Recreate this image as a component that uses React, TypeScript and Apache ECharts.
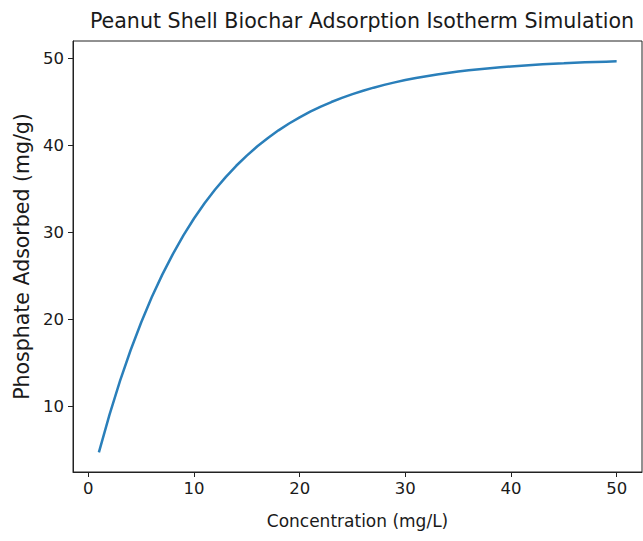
import React, { useEffect, useRef } from "react";
import * as echarts from "echarts";

const concentration: number[] = [
  1, 2, 3, 4, 5, 6, 7, 8, 9, 10, 11, 12, 13, 14, 15, 16, 17, 18, 19, 20, 21, 22, 23, 24, 25,
  26, 27, 28, 29, 30, 31, 32, 33, 34, 35, 36, 37, 38, 39, 40, 41, 42, 43, 44, 45, 46, 47, 48, 49, 50,
];
const adsorbed: number[] = [
  4.76, 9.06, 12.96, 16.48, 19.67, 22.56, 25.17, 27.53, 29.67, 31.61, 33.36, 34.94, 36.37, 37.67,
  38.84, 39.91, 40.87, 41.74, 42.52, 43.23, 43.88, 44.46, 44.99, 45.46, 45.9, 46.29, 46.64, 46.96,
  47.25, 47.51, 47.75, 47.96, 48.16, 48.33, 48.49, 48.63, 48.76, 48.88, 48.99, 49.08, 49.17, 49.25,
  49.32, 49.39, 49.44, 49.5, 49.55, 49.59, 49.63, 49.66,
];
const xTicks: number[] = [0, 10, 20, 30, 40, 50];
const yTicks: number[] = [10, 20, 30, 40, 50];

const FONT = "DejaVu Sans";

export default function App() {
  const ref = useRef<HTMLDivElement>(null);
  useEffect(() => {
    document.body.style.margin = "0";
    if (!ref.current) return;
    const chart = echarts.init(ref.current, undefined, { renderer: "svg" });
    chart.setOption({
      animation: false,
      backgroundColor: "#ffffff",
      title: {
        text: "Peanut Shell Biochar Adsorption Isotherm Simulation",
        left: 357,
        textAlign: "center",
        top: 5,
        textStyle: { fontFamily: FONT, fontSize: 20.6, fontWeight: "normal", color: "#1a1a1a" },
      },
      grid: { left: 73, right: 1, top: 41, bottom: 69, containLabel: false, show: true, borderColor: "#222", borderWidth: 1 },
      xAxis: {
        type: "value",
        min: -1.45,
        max: 52.4,
        name: "Concentration (mg/L)",
        nameLocation: "middle",
        nameGap: 40,
        nameTextStyle: { fontFamily: FONT, fontSize: 17, color: "#1a1a1a" },
        axisLine: { show: true, onZero: false, lineStyle: { color: "#222", width: 1 } },
        axisTick: { show: true, inside: false, length: 5, customValues: xTicks, lineStyle: { color: "#222" } },
        axisLabel: { customValues: xTicks, margin: 8, fontFamily: FONT, fontSize: 16.5, color: "#1a1a1a" },
        splitLine: { show: false },
      },
      yAxis: {
        type: "value",
        min: 2.5,
        max: 52.0,
        name: "Phosphate Adsorbed (mg/g)",
        nameLocation: "middle",
        nameGap: 41,
        nameRotate: 90,
        nameTextStyle: { fontFamily: FONT, fontSize: 20.5, color: "#1a1a1a" },
        axisLine: { show: true, onZero: false, lineStyle: { color: "#222", width: 1 } },
        axisTick: { show: true, inside: false, length: 5, customValues: yTicks, lineStyle: { color: "#222" } },
        axisLabel: { customValues: yTicks, margin: 9, fontFamily: FONT, fontSize: 16.5, color: "#1a1a1a" },
        splitLine: { show: false },
      },
      series: [
        {
          type: "line",
          data: concentration.map((c, i) => [c, adsorbed[i]]),
          showSymbol: false,
          symbol: "none",
          smooth: false,
          lineStyle: { color: "#2a7fba", width: 2.5 },
        },
      ],
    });
    return () => chart.dispose();
  }, []);
  return <div ref={ref} style={{ width: 643, height: 541 }} />;
}
